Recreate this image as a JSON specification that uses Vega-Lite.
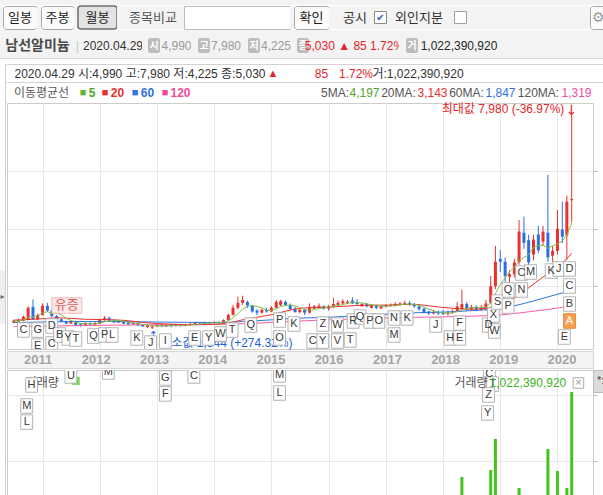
{
  "$schema": "https://vega.github.io/schema/vega-lite/v6.json",
  "background": "#ffffff",
  "padding": 0,
  "spacing": 0,
  "config": {
    "view": {"stroke": null},
    "font": "Liberation Sans, Noto Sans CJK KR",
    "text": {"font": "Liberation Sans, Noto Sans CJK KR", "fontSize": 12, "color": "#333333"},
    "concat": {"spacing": 0}
  },
  "datasets": {
    "px": [
      {"d":"2010-07-01","o":730,"h":830,"l":710,"c":800,"v":40,"m5":772},
      {"d":"2010-08-01","o":780,"h":870,"l":760,"c":830,"v":30,"m5":788},
      {"d":"2010-09-01","o":800,"h":980,"l":780,"c":940,"v":60,"m5":824},
      {"d":"2010-10-01","o":840,"h":1300,"l":820,"c":1250,"v":150,"m5":920},
      {"d":"2010-11-01","o":1280,"h":1540,"l":830,"c":850,"v":170,"m5":934},
      {"d":"2010-12-01","o":850,"h":1050,"l":820,"c":1000,"v":70,"m5":974},
      {"d":"2011-01-01","o":1000,"h":1400,"l":980,"c":1320,"v":160,"m5":1072},
      {"d":"2011-02-01","o":1320,"h":1420,"l":1100,"c":1150,"v":90,"m5":1114},
      {"d":"2011-03-01","o":1150,"h":1200,"l":930,"c":960,"v":60,"m5":1056},
      {"d":"2011-04-01","o":960,"h":1000,"l":820,"c":850,"v":40,"m5":1056},
      {"d":"2011-05-01","o":850,"h":880,"l":740,"c":760,"v":30,"m5":1008},
      {"d":"2011-06-01","o":770,"h":800,"l":680,"c":700,"v":25,"m5":884},
      {"d":"2011-07-01","o":700,"h":820,"l":690,"c":790,"v":35,"m5":812},
      {"d":"2011-08-01","o":780,"h":800,"l":600,"c":640,"v":30,"m5":748},
      {"d":"2011-09-01","o":680,"h":700,"l":590,"c":630,"v":20,"m5":704},
      {"d":"2011-10-01","o":630,"h":750,"l":610,"c":720,"v":25,"m5":696},
      {"d":"2011-11-01","o":720,"h":740,"l":640,"c":670,"v":20,"m5":690},
      {"d":"2011-12-01","o":670,"h":750,"l":650,"c":720,"v":25,"m5":676},
      {"d":"2012-01-01","o":700,"h":870,"l":690,"c":830,"v":60,"m5":714},
      {"d":"2012-02-01","o":820,"h":960,"l":800,"c":900,"v":70,"m5":768},
      {"d":"2012-03-01","o":900,"h":940,"l":780,"c":800,"v":35,"m5":784},
      {"d":"2012-04-01","o":820,"h":850,"l":720,"c":740,"v":25,"m5":798},
      {"d":"2012-05-01","o":740,"h":820,"l":720,"c":790,"v":30,"m5":812},
      {"d":"2012-06-01","o":790,"h":810,"l":680,"c":700,"v":20,"m5":786},
      {"d":"2012-07-01","o":720,"h":760,"l":650,"c":670,"v":15,"m5":740},
      {"d":"2012-08-01","o":670,"h":760,"l":650,"c":720,"v":20,"m5":724},
      {"d":"2012-09-01","o":720,"h":750,"l":620,"c":640,"v":15,"m5":704},
      {"d":"2012-10-01","o":650,"h":680,"l":580,"c":600,"v":15,"m5":666},
      {"d":"2012-11-01","o":580,"h":670,"l":550,"c":640,"v":20,"m5":654},
      {"d":"2012-12-01","o":560,"h":640,"l":510,"c":600,"v":20,"m5":640},
      {"d":"2013-01-01","o":600,"h":690,"l":580,"c":650,"v":25,"m5":626},
      {"d":"2013-02-01","o":660,"h":690,"l":590,"c":600,"v":15,"m5":618},
      {"d":"2013-03-01","o":600,"h":680,"l":580,"c":650,"v":20,"m5":628},
      {"d":"2013-04-01","o":650,"h":670,"l":570,"c":610,"v":15,"m5":622},
      {"d":"2013-05-01","o":610,"h":700,"l":600,"c":660,"v":20,"m5":634},
      {"d":"2013-06-01","o":660,"h":680,"l":590,"c":620,"v":15,"m5":628},
      {"d":"2013-07-01","o":620,"h":700,"l":600,"c":670,"v":20,"m5":642},
      {"d":"2013-08-01","o":660,"h":720,"l":640,"c":690,"v":20,"m5":650},
      {"d":"2013-09-01","o":680,"h":770,"l":660,"c":730,"v":30,"m5":674},
      {"d":"2013-10-01","o":730,"h":760,"l":680,"c":700,"v":20,"m5":682},
      {"d":"2013-11-01","o":700,"h":770,"l":690,"c":740,"v":25,"m5":706},
      {"d":"2013-12-01","o":740,"h":760,"l":690,"c":710,"v":15,"m5":714},
      {"d":"2014-01-01","o":710,"h":780,"l":700,"c":740,"v":20,"m5":724},
      {"d":"2014-02-01","o":740,"h":770,"l":700,"c":720,"v":15,"m5":722},
      {"d":"2014-03-01","o":720,"h":850,"l":710,"c":820,"v":40,"m5":746},
      {"d":"2014-04-01","o":820,"h":1050,"l":800,"c":1000,"v":120,"m5":798},
      {"d":"2014-05-01","o":1000,"h":1350,"l":980,"c":1250,"v":180,"m5":906},
      {"d":"2014-06-01","o":1250,"h":1640,"l":1200,"c":1420,"v":190,"m5":1042},
      {"d":"2014-07-01","o":1420,"h":1670,"l":1350,"c":1520,"v":150,"m5":1202},
      {"d":"2014-08-01","o":1450,"h":1500,"l":1250,"c":1330,"v":80,"m5":1304},
      {"d":"2014-09-01","o":1320,"h":1350,"l":1080,"c":1120,"v":60,"m5":1328},
      {"d":"2014-10-01","o":1150,"h":1200,"l":1000,"c":1080,"v":40,"m5":1294},
      {"d":"2014-11-01","o":1080,"h":1220,"l":1050,"c":1180,"v":45,"m5":1246},
      {"d":"2014-12-01","o":1180,"h":1250,"l":1080,"c":1120,"v":35,"m5":1166},
      {"d":"2015-01-01","o":1120,"h":1300,"l":1100,"c":1250,"v":70,"m5":1150},
      {"d":"2015-02-01","o":1250,"h":1520,"l":1230,"c":1450,"v":120,"m5":1216},
      {"d":"2015-03-01","o":1350,"h":1530,"l":1300,"c":1480,"v":90,"m5":1296},
      {"d":"2015-04-01","o":1450,"h":1500,"l":1300,"c":1350,"v":60,"m5":1330},
      {"d":"2015-05-01","o":1350,"h":1400,"l":1180,"c":1200,"v":40,"m5":1346},
      {"d":"2015-06-01","o":1220,"h":1280,"l":1080,"c":1100,"v":35,"m5":1316},
      {"d":"2015-07-01","o":1100,"h":1220,"l":1050,"c":1180,"v":40,"m5":1262},
      {"d":"2015-08-01","o":1180,"h":1200,"l":1000,"c":1080,"v":35,"m5":1182},
      {"d":"2015-09-01","o":1080,"h":1400,"l":1050,"c":1260,"v":90,"m5":1164},
      {"d":"2015-10-01","o":1220,"h":1350,"l":1200,"c":1300,"v":40,"m5":1184},
      {"d":"2015-11-01","o":1250,"h":1400,"l":1220,"c":1320,"v":45,"m5":1228},
      {"d":"2015-12-01","o":1300,"h":1330,"l":1180,"c":1220,"v":30,"m5":1236},
      {"d":"2016-01-01","o":1220,"h":1350,"l":1150,"c":1300,"v":35,"m5":1280},
      {"d":"2016-02-01","o":1280,"h":1600,"l":1250,"c":1380,"v":100,"m5":1304},
      {"d":"2016-03-01","o":1350,"h":1500,"l":1320,"c":1420,"v":50,"m5":1328},
      {"d":"2016-04-01","o":1400,"h":1550,"l":1380,"c":1480,"v":60,"m5":1360},
      {"d":"2016-05-01","o":1420,"h":1520,"l":1380,"c":1460,"v":40,"m5":1408},
      {"d":"2016-06-01","o":1500,"h":1620,"l":1380,"c":1400,"v":70,"m5":1428},
      {"d":"2016-07-01","o":1450,"h":1550,"l":1350,"c":1380,"v":40,"m5":1428},
      {"d":"2016-08-01","o":1300,"h":1420,"l":1280,"c":1380,"v":35,"m5":1420},
      {"d":"2016-09-01","o":1380,"h":1420,"l":1260,"c":1300,"v":30,"m5":1384},
      {"d":"2016-10-01","o":1250,"h":1380,"l":1220,"c":1320,"v":30,"m5":1356},
      {"d":"2016-11-01","o":1320,"h":1360,"l":1200,"c":1250,"v":35,"m5":1326},
      {"d":"2016-12-01","o":1230,"h":1330,"l":1200,"c":1300,"v":30,"m5":1310},
      {"d":"2017-01-01","o":1300,"h":1380,"l":1260,"c":1330,"v":30,"m5":1300},
      {"d":"2017-02-01","o":1320,"h":1400,"l":1300,"c":1350,"v":35,"m5":1310},
      {"d":"2017-03-01","o":1330,"h":1450,"l":1300,"c":1380,"v":40,"m5":1322},
      {"d":"2017-04-01","o":1350,"h":1450,"l":1320,"c":1400,"v":35,"m5":1352},
      {"d":"2017-05-01","o":1380,"h":1500,"l":1350,"c":1420,"v":45,"m5":1376},
      {"d":"2017-06-01","o":1420,"h":1480,"l":1320,"c":1350,"v":30,"m5":1380},
      {"d":"2017-07-01","o":1380,"h":1420,"l":1250,"c":1300,"v":25,"m5":1370},
      {"d":"2017-08-01","o":1300,"h":1330,"l":1150,"c":1200,"v":30,"m5":1334},
      {"d":"2017-09-01","o":1220,"h":1250,"l":1050,"c":1100,"v":35,"m5":1274},
      {"d":"2017-10-01","o":1120,"h":1150,"l":1000,"c":1050,"v":25,"m5":1200},
      {"d":"2017-11-01","o":1050,"h":1180,"l":1020,"c":1100,"v":30,"m5":1150},
      {"d":"2017-12-01","o":1100,"h":1150,"l":1000,"c":1050,"v":20,"m5":1100},
      {"d":"2018-01-01","o":1080,"h":1180,"l":1000,"c":1030,"v":30,"m5":1066},
      {"d":"2018-02-01","o":1030,"h":1150,"l":980,"c":1080,"v":25,"m5":1062},
      {"d":"2018-03-01","o":1070,"h":1200,"l":1040,"c":1120,"v":40,"m5":1076},
      {"d":"2018-04-01","o":1120,"h":1450,"l":1100,"c":1300,"v":150,"m5":1116},
      {"d":"2018-05-01","o":1200,"h":1880,"l":1180,"c":1380,"v":379,"m5":1182},
      {"d":"2018-06-01","o":1380,"h":1450,"l":1150,"c":1200,"v":110,"m5":1216},
      {"d":"2018-07-01","o":1200,"h":1350,"l":1150,"c":1280,"v":60,"m5":1256},
      {"d":"2018-08-01","o":1280,"h":1330,"l":1130,"c":1180,"v":50,"m5":1268},
      {"d":"2018-09-01","o":1180,"h":1350,"l":1150,"c":1250,"v":60,"m5":1258},
      {"d":"2018-10-01","o":1250,"h":1520,"l":1150,"c":1400,"v":150,"m5":1262},
      {"d":"2018-11-01","o":1420,"h":2350,"l":1380,"c":2000,"v":432,"m5":1422},
      {"d":"2018-12-01","o":2000,"h":3400,"l":1900,"c":2850,"v":667,"m5":1736},
      {"d":"2019-01-01","o":2950,"h":3250,"l":2500,"c":2850,"v":235,"m5":2070},
      {"d":"2019-02-01","o":2850,"h":3000,"l":2150,"c":2350,"v":130,"m5":2290},
      {"d":"2019-03-01","o":2330,"h":2550,"l":2100,"c":2420,"v":90,"m5":2494},
      {"d":"2019-04-01","o":2420,"h":2950,"l":2300,"c":2830,"v":160,"m5":2660},
      {"d":"2019-05-01","o":2830,"h":4300,"l":2750,"c":3900,"v":295,"m5":2870},
      {"d":"2019-06-01","o":3860,"h":4420,"l":3300,"c":3510,"v":180,"m5":3002},
      {"d":"2019-07-01","o":3600,"h":3790,"l":2650,"c":2830,"v":110,"m5":3098},
      {"d":"2019-08-01","o":3100,"h":3790,"l":2900,"c":3620,"v":150,"m5":3338},
      {"d":"2019-09-01","o":3800,"h":4100,"l":3150,"c":3250,"v":130,"m5":3422},
      {"d":"2019-10-01","o":3550,"h":4100,"l":3400,"c":3900,"v":160,"m5":3422},
      {"d":"2019-11-01","o":3860,"h":5870,"l":2850,"c":3000,"v":591,"m5":3320},
      {"d":"2019-12-01","o":3060,"h":3400,"l":2850,"c":3230,"v":100,"m5":3400},
      {"d":"2020-01-01","o":3230,"h":4650,"l":3100,"c":4000,"v":424,"m5":3476},
      {"d":"2020-02-01","o":3970,"h":4940,"l":3500,"c":3720,"v":242,"m5":3570},
      {"d":"2020-03-01","o":3760,"h":5150,"l":2920,"c":4940,"v":295,"m5":3778},
      {"d":"2020-04-01","o":4990,"h":7980,"l":4225,"c":5030,"v":1022.39092,"m5":4197}
    ],
    "ma": [
      {"d":"2010-07-01","m20":820,"m60":740,"m120":600},
      {"d":"2010-10-01","m20":840,"m60":745,"m120":605},
      {"d":"2011-01-01","m20":870,"m60":755,"m120":612},
      {"d":"2011-04-01","m20":900,"m60":765,"m120":620},
      {"d":"2011-07-01","m20":880,"m60":770,"m120":627},
      {"d":"2011-10-01","m20":850,"m60":770,"m120":633},
      {"d":"2012-01-01","m20":840,"m60":770,"m120":640},
      {"d":"2012-04-01","m20":830,"m60":770,"m120":645},
      {"d":"2012-07-01","m20":800,"m60":765,"m120":650},
      {"d":"2012-10-01","m20":740,"m60":760,"m120":655},
      {"d":"2013-01-01","m20":700,"m60":755,"m120":658},
      {"d":"2013-04-01","m20":680,"m60":750,"m120":662},
      {"d":"2013-07-01","m20":650,"m60":745,"m120":665},
      {"d":"2013-10-01","m20":660,"m60":740,"m120":668},
      {"d":"2014-01-01","m20":680,"m60":740,"m120":672},
      {"d":"2014-04-01","m20":720,"m60":745,"m120":680},
      {"d":"2014-07-01","m20":830,"m60":770,"m120":695},
      {"d":"2014-10-01","m20":920,"m60":800,"m120":715},
      {"d":"2015-01-01","m20":1010,"m60":830,"m120":740},
      {"d":"2015-04-01","m20":1130,"m60":860,"m120":765},
      {"d":"2015-07-01","m20":1230,"m60":890,"m120":790},
      {"d":"2015-10-01","m20":1260,"m60":905,"m120":810},
      {"d":"2016-01-01","m20":1270,"m60":918,"m120":830},
      {"d":"2016-04-01","m20":1300,"m60":945,"m120":850},
      {"d":"2016-07-01","m20":1330,"m60":970,"m120":865},
      {"d":"2016-10-01","m20":1340,"m60":1000,"m120":880},
      {"d":"2017-01-01","m20":1340,"m60":1025,"m120":895},
      {"d":"2017-04-01","m20":1360,"m60":1050,"m120":905},
      {"d":"2017-07-01","m20":1370,"m60":1075,"m120":915},
      {"d":"2017-10-01","m20":1320,"m60":1090,"m120":925},
      {"d":"2018-01-01","m20":1260,"m60":1100,"m120":935},
      {"d":"2018-04-01","m20":1220,"m60":1120,"m120":945},
      {"d":"2018-07-01","m20":1200,"m60":1150,"m120":955},
      {"d":"2018-10-01","m20":1228,"m60":1180,"m120":975},
      {"d":"2019-01-01","m20":1404,"m60":1230,"m120":1000},
      {"d":"2019-04-01","m20":1591,"m60":1320,"m120":1050},
      {"d":"2019-07-01","m20":1940,"m60":1440,"m120":1110},
      {"d":"2019-10-01","m20":2321,"m60":1580,"m120":1170},
      {"d":"2020-01-01","m20":2642,"m60":1720,"m120":1240},
      {"d":"2020-04-01","m20":3143,"m60":1847,"m120":1319}
    ],
    "ev": [
      {"d":"2010-09-01","k":"C","p":476},
      {"d":"2010-12-01","k":"G","p":476},
      {"d":"2011-03-01","k":"D","p":616},
      {"d":"2010-12-01","k":"E","p":-80},
      {"d":"2011-03-01","k":"C","p":-10},
      {"d":"2011-04-20","k":"B","p":303},
      {"d":"2011-06-12","k":"Y","p":198},
      {"d":"2011-08-01","k":"T","p":163},
      {"d":"2011-11-22","k":"Q","p":268},
      {"d":"2012-02-01","k":"P","p":303},
      {"d":"2012-03-20","k":"L","p":303},
      {"d":"2012-08-25","k":"K","p":198},
      {"d":"2012-11-21","k":"J","p":24},
      {"d":"2013-02-23","k":"I","p":94},
      {"d":"2013-08-29","k":"E","p":198},
      {"d":"2013-11-26","k":"Y","p":198},
      {"d":"2014-02-10","k":"W","p":337},
      {"d":"2014-04-25","k":"T","p":476},
      {"d":"2014-08-22","k":"Q","p":650},
      {"d":"2015-02-22","k":"P","p":824},
      {"d":"2015-02-22","k":"O","p":198},
      {"d":"2015-05-25","k":"K","p":685},
      {"d":"2015-09-22","k":"C","p":94},
      {"d":"2015-11-25","k":"Y","p":94},
      {"d":"2016-02-27","k":"V","p":94},
      {"d":"2016-05-18","k":"T","p":129},
      {"d":"2015-11-25","k":"Z","p":685},
      {"d":"2016-02-27","k":"W","p":650},
      {"d":"2016-06-06","k":"R","p":790},
      {"d":"2016-07-20","k":"Q","p":929},
      {"d":"2016-09-21","k":"P","p":790},
      {"d":"2016-11-17","k":"O","p":790},
      {"d":"2017-02-22","k":"N","p":894},
      {"d":"2017-05-16","k":"K","p":894},
      {"d":"2017-02-22","k":"M","p":303},
      {"d":"2017-11-15","k":"J","p":650},
      {"d":"2018-02-15","k":"H","p":200},
      {"d":"2018-04-17","k":"F","p":720},
      {"d":"2018-04-17","k":"E","p":200},
      {"d":"2018-10-17","k":"D","p":650},
      {"d":"2018-11-24","k":"W","p":442},
      {"d":"2018-11-18","k":"X","p":998},
      {"d":"2018-12-15","k":"S","p":1450},
      {"d":"2019-02-20","k":"P","p":1311},
      {"d":"2019-02-20","k":"Q","p":1868},
      {"d":"2019-05-17","k":"N","p":1868},
      {"d":"2019-05-17","k":"C","p":2459},
      {"d":"2019-07-13","k":"M","p":2494},
      {"d":"2019-11-22","k":"K","p":2528},
      {"d":"2020-01-10","k":"J","p":2598},
      {"d":"2020-03-18","k":"D","p":2598},
      {"d":"2020-03-18","k":"C","p":2007},
      {"d":"2020-03-18","k":"B","p":1381},
      {"d":"2020-03-18","k":"A","p":790},
      {"d":"2020-02-14","k":"E","p":233}
    ],
    "ev2": [
      {"d":"2010-10-23","k":"H","v":1076},
      {"d":"2011-07-01","k":"U","v":1144},
      {"d":"2012-02-25","k":"M","v":1174},
      {"d":"2013-02-23","k":"G","v":1129},
      {"d":"2013-02-23","k":"F","v":1008},
      {"d":"2013-08-24","k":"C","v":1144},
      {"d":"2015-02-22","k":"M","v":1152},
      {"d":"2015-02-22","k":"L","v":1015},
      {"d":"2010-09-22","k":"M","v":917},
      {"d":"2010-09-22","k":"L","v":795},
      {"d":"2018-10-23","k":"C","v":1159},
      {"d":"2018-11-13","k":"T","v":1083},
      {"d":"2018-10-18","k":"Z","v":1000},
      {"d":"2018-10-12","k":"Y","v":864}
    ],
    "yr": [
      {"d":"2011-01-01","y":"2011"},{"d":"2012-01-01","y":"2012"},{"d":"2013-01-01","y":"2013"},
      {"d":"2014-01-01","y":"2014"},{"d":"2015-01-01","y":"2015"},{"d":"2016-01-01","y":"2016"},
      {"d":"2017-01-01","y":"2017"},{"d":"2018-01-01","y":"2018"},{"d":"2019-01-01","y":"2019"},
      {"d":"2020-01-01","y":"2020"}
    ]
  },
  "vconcat": [
    {"width":603,"height":5,"view":{"fill":"#f3f3f3"},"data":{"values":[]},"mark":{"type":"text"}},
    {"hconcat": [
      {"width":3,"height":23,"view":{"fill":"#f3f3f3"},"data":{"values":[]},"mark":{"type":"text"}},
      {"width":34,"height":23,"view":{"fill":"#fbfbfb","stroke":"#a7a7a7","cornerRadius":3},"data":{"values":[{"t":"일봉"}]},"mark":{"type":"text","font":"Noto Sans CJK KR","fontSize":13,"color":"#222222"},"encoding":{"text":{"field":"t"}}},
      {"width":4,"height":23,"view":{"fill":"#f3f3f3"},"data":{"values":[]},"mark":{"type":"text"}},
      {"width":33,"height":23,"view":{"fill":"#fbfbfb","stroke":"#a7a7a7","cornerRadius":3},"data":{"values":[{"t":"주봉"}]},"mark":{"type":"text","font":"Noto Sans CJK KR","fontSize":13,"color":"#222222"},"encoding":{"text":{"field":"t"}}},
      {"width":4,"height":23,"view":{"fill":"#f3f3f3"},"data":{"values":[]},"mark":{"type":"text"}},
      {"width":39,"height":23,"view":{"fill":"#e3e3e3","stroke":"#6e6e6e","strokeWidth":1.5,"cornerRadius":3},"data":{"values":[{"t":"월봉"}]},"mark":{"type":"text","font":"Noto Sans CJK KR","fontSize":13,"color":"#222222"},"encoding":{"text":{"field":"t"}}},
      {"width":8,"height":23,"view":{"fill":"#f3f3f3"},"data":{"values":[]},"mark":{"type":"text"}},
      {"width":56,"height":23,"view":{"fill":"#f3f3f3"},"data":{"values":[{"t":"종목비교"}]},"mark":{"type":"text","font":"Noto Sans CJK KR","fontSize":13,"color":"#555555"},"encoding":{"text":{"field":"t"}}},
      {"width":3,"height":23,"view":{"fill":"#f3f3f3"},"data":{"values":[]},"mark":{"type":"text"}},
      {"width":106,"height":23,"view":{"fill":"#ffffff","stroke":"#bdbdbd"},"data":{"values":[]},"mark":{"type":"text"}},
      {"width":4,"height":23,"view":{"fill":"#f3f3f3"},"data":{"values":[]},"mark":{"type":"text"}},
      {"width":35,"height":23,"view":{"fill":"#fbfbfb","stroke":"#a7a7a7","cornerRadius":3},"data":{"values":[{"t":"확인"}]},"mark":{"type":"text","font":"Noto Sans CJK KR","fontSize":13,"color":"#222222"},"encoding":{"text":{"field":"t"}}},
      {"width":10,"height":23,"view":{"fill":"#f3f3f3"},"data":{"values":[]},"mark":{"type":"text"}},
      {"width":32,"height":23,"view":{"fill":"#f3f3f3"},"data":{"values":[{"t":"공시"}]},"mark":{"type":"text","font":"Noto Sans CJK KR","fontSize":13,"color":"#333333"},"encoding":{"text":{"field":"t"}}},
      {"width":3,"height":23,"view":{"fill":"#f3f3f3"},"data":{"values":[]},"mark":{"type":"text"}},
      {"width":13,"height":23,"view":{"fill":"#f3f3f3"},"data":{"values":[{"t":"✔"}]},
       "layer":[
         {"mark":{"type":"point","shape":"square","size":144,"filled":true,"fill":"#ffffff","stroke":"#8a8a8a","strokeWidth":1,"opacity":1}},
         {"mark":{"type":"text","font":"DejaVu Sans","fontSize":10,"color":"#2a62c9"},"encoding":{"text":{"field":"t"}}}
       ]},
      {"width":6,"height":23,"view":{"fill":"#f3f3f3"},"data":{"values":[]},"mark":{"type":"text"}},
      {"width":52,"height":23,"view":{"fill":"#f3f3f3"},"data":{"values":[{"t":"외인지분"}]},"mark":{"type":"text","font":"Noto Sans CJK KR","fontSize":13,"color":"#333333"},"encoding":{"text":{"field":"t"}}},
      {"width":9,"height":23,"view":{"fill":"#f3f3f3"},"data":{"values":[]},"mark":{"type":"text"}},
      {"width":13,"height":23,"view":{"fill":"#f3f3f3"},"data":{"values":[{"t":""}]},
       "mark":{"type":"point","shape":"square","size":144,"filled":true,"fill":"#ffffff","stroke":"#a0a0a0","strokeWidth":1,"opacity":1}},
      {"width":123,"height":23,"view":{"fill":"#f3f3f3"},"data":{"values":[]},"mark":{"type":"text"}},
      {"width":20,"height":23,"view":{"fill":"#fbfbfb","stroke":"#a7a7a7","cornerRadius":3},"data":{"values":[{"t":"⚙"}]},"mark":{"type":"text","font":"DejaVu Sans","fontSize":14,"color":"#9a9a9a","align":"left","dx":-8},"encoding":{"text":{"field":"t"}}}
    ], "spacing":0, "bounds":"flush"},
    {"width":603,"height":8,"view":{"fill":"#f3f3f3"},"data":{"values":[]},"mark":{"type":"text"}},
    {"hconcat": [
      {"width":4,"height":15,"view":{"fill":"#f3f3f3"},"data":{"values":[]},"mark":{"type":"text"}},
      {"width":67,"height":15,"view":{"fill":"#f3f3f3"},"data":{"values":[{"t":"남선알미늄"}]},"mark":{"type":"text","font":"Noto Sans CJK KR","fontSize":14,"fontWeight":"bold","color":"#4a4a4a"},"encoding":{"text":{"field":"t"}}},
      {"width":13,"height":15,"view":{"fill":"#f3f3f3"},"data":{"values":[{"t":"|"}]},"mark":{"type":"text","fontSize":13,"color":"#c6c6c6"},"encoding":{"text":{"field":"t"}}},
      {"width":58,"height":15,"view":{"fill":"#f3f3f3"},"data":{"values":[{"t":"2020.04.29"}]},"mark":{"type":"text","fontSize":12,"color":"#333333"},"encoding":{"text":{"field":"t"}}},
      {"width":6,"height":15,"view":{"fill":"#f3f3f3"},"data":{"values":[]},"mark":{"type":"text"}},
      {"width":12,"height":15,"view":{"fill":"#bdbdbd","cornerRadius":2},"data":{"values":[{"t":"시"}]},"mark":{"type":"text","font":"Noto Sans CJK KR","fontSize":10,"fontWeight":"bold","color":"#ffffff"},"encoding":{"text":{"field":"t"}}},
      {"width":2,"height":15,"view":{"fill":"#f3f3f3"},"data":{"values":[]},"mark":{"type":"text"}},
      {"width":29,"height":15,"view":{"fill":"#f3f3f3"},"data":{"values":[{"t":"4,990"}]},"mark":{"type":"text","color":"#9c9c9c"},"encoding":{"text":{"field":"t"}}},
      {"width":7,"height":15,"view":{"fill":"#f3f3f3"},"data":{"values":[]},"mark":{"type":"text"}},
      {"width":12,"height":15,"view":{"fill":"#bdbdbd","cornerRadius":2},"data":{"values":[{"t":"고"}]},"mark":{"type":"text","font":"Noto Sans CJK KR","fontSize":10,"fontWeight":"bold","color":"#ffffff"},"encoding":{"text":{"field":"t"}}},
      {"width":1,"height":15,"view":{"fill":"#f3f3f3"},"data":{"values":[]},"mark":{"type":"text"}},
      {"width":30,"height":15,"view":{"fill":"#f3f3f3"},"data":{"values":[{"t":"7,980"}]},"mark":{"type":"text","color":"#9c9c9c"},"encoding":{"text":{"field":"t"}}},
      {"width":7,"height":15,"view":{"fill":"#f3f3f3"},"data":{"values":[]},"mark":{"type":"text"}},
      {"width":12,"height":15,"view":{"fill":"#bdbdbd","cornerRadius":2},"data":{"values":[{"t":"저"}]},"mark":{"type":"text","font":"Noto Sans CJK KR","fontSize":10,"fontWeight":"bold","color":"#ffffff"},"encoding":{"text":{"field":"t"}}},
      {"width":1,"height":15,"view":{"fill":"#f3f3f3"},"data":{"values":[]},"mark":{"type":"text"}},
      {"width":30,"height":15,"view":{"fill":"#f3f3f3"},"data":{"values":[{"t":"4,225"}]},"mark":{"type":"text","color":"#9c9c9c"},"encoding":{"text":{"field":"t"}}},
      {"width":6,"height":15,"view":{"fill":"#f3f3f3"},"data":{"values":[]},"mark":{"type":"text"}},
      {"width":12,"height":15,"view":{"fill":"#bdbdbd","cornerRadius":2},"data":{"values":[{"t":"종"}]},"mark":{"type":"text","font":"Noto Sans CJK KR","fontSize":10,"fontWeight":"bold","color":"#ffffff"},"encoding":{"text":{"field":"t"}}},
      {"width":1,"height":15,"view":{"fill":"#f3f3f3"},"data":{"values":[]},"mark":{"type":"text"}},
      {"width":89,"height":15,"view":{"fill":"#f3f3f3"},"data":{"values":[{"t":"5,030 ▲ 85 1.72%"}]},"mark":{"type":"text","color":"#e3262b"},"encoding":{"text":{"field":"t"}}},
      {"width":7,"height":15,"view":{"fill":"#f3f3f3"},"data":{"values":[]},"mark":{"type":"text"}},
      {"width":12,"height":15,"view":{"fill":"#bdbdbd","cornerRadius":2},"data":{"values":[{"t":"거"}]},"mark":{"type":"text","font":"Noto Sans CJK KR","fontSize":10,"fontWeight":"bold","color":"#ffffff"},"encoding":{"text":{"field":"t"}}},
      {"width":1,"height":15,"view":{"fill":"#f3f3f3"},"data":{"values":[]},"mark":{"type":"text"}},
      {"width":80,"height":15,"view":{"fill":"#f3f3f3"},"data":{"values":[{"t":"1,022,390,920"}]},"mark":{"type":"text","color":"#262626"},"encoding":{"text":{"field":"t"}}},
      {"width":104,"height":15,"view":{"fill":"#f3f3f3"},"data":{"values":[]},"mark":{"type":"text"}}
    ], "spacing":0, "bounds":"flush"},
    {"width":603,"height":5,"view":{"fill":"#f3f3f3"},"data":{"values":[]},"mark":{"type":"text"}},
    {"width":603,"height":1,"view":{"fill":"#d4d4d4"},"data":{"values":[]},"mark":{"type":"text"}},
    {"width":603,"height":5,"data":{"values":[]},"mark":{"type":"text"}},
    {"hconcat": [
      {"vconcat": [
        {"width":5,"height":206,"data":{"values":[]},"mark":{"type":"text"}},
        {"width":5,"height":54,"view":{"fill":"#efefef","cornerRadius":2},"data":{"values":[{"t":"▸"}]},"mark":{"type":"text","font":"DejaVu Sans","fontSize":8,"color":"#707070"},"encoding":{"text":{"field":"t"}}}
      ], "spacing":0, "bounds":"flush"},
      {"width":1,"height":458,"view":{"fill":"#cfcfcf"},"data":{"values":[]},"mark":{"type":"text"}},
      {"vconcat": [
        {"width":597,"height":1,"view":{"fill":"#d2d2d2"},"data":{"values":[]},"mark":{"type":"text"}},
        {"hconcat": [
          {"width":6,"height":17,"data":{"values":[]},"mark":{"type":"text"}},
          {"width":254,"height":17,"data":{"values":[{"t":"2020.04.29 시:4,990 고:7,980 저:4,225 종:5,030"}]},"mark":{"type":"text","color":"#333333"},"encoding":{"text":{"field":"t"}}},
          {"width":12,"height":17,"data":{"values":[{"t":"▲"}]},"mark":{"type":"text","color":"#e3262b","fontSize":11},"encoding":{"text":{"field":"t"}}},
          {"width":36,"height":17,"data":{"values":[]},"mark":{"type":"text"}},
          {"width":13,"height":17,"data":{"values":[{"t":"85"}]},"mark":{"type":"text","color":"#e3262b"},"encoding":{"text":{"field":"t"}}},
          {"width":13,"height":17,"data":{"values":[]},"mark":{"type":"text"}},
          {"width":30,"height":17,"data":{"values":[{"t":"1.72%"}]},"mark":{"type":"text","color":"#e3262b"},"encoding":{"text":{"field":"t"}}},
          {"width":2,"height":17,"data":{"values":[]},"mark":{"type":"text"}},
          {"width":90,"height":17,"data":{"values":[{"t":"거:1,022,390,920"}]},"mark":{"type":"text","color":"#333333"},"encoding":{"text":{"field":"t"}}},
          {"width":141,"height":17,"data":{"values":[]},"mark":{"type":"text"}}
        ], "spacing":0, "bounds":"flush"},
        {"width":597,"height":1,"view":{"fill":"#d2d2d2"},"data":{"values":[]},"mark":{"type":"text"}},
        {"hconcat": [
          {"width":6,"height":19,"data":{"values":[]},"mark":{"type":"text"}},
          {"width":57,"height":19,"data":{"values":[{"t":"이동평균선"}]},"mark":{"type":"text","color":"#5a5a5a"},"encoding":{"text":{"field":"t"}}},
          {"width":8,"height":19,"data":{"values":[]},"mark":{"type":"text"}},
          {"width":10,"height":19,"data":{"values":[{"t":"■"}]},"mark":{"type":"text","color":"#64b43a","fontSize":11},"encoding":{"text":{"field":"t"}}},
          {"width":8,"height":19,"data":{"values":[{"t":"5"}]},"mark":{"type":"text","color":"#4fa52a","fontWeight":"bold"},"encoding":{"text":{"field":"t"}}},
          {"width":4,"height":19,"data":{"values":[]},"mark":{"type":"text"}},
          {"width":10,"height":19,"data":{"values":[{"t":"■"}]},"mark":{"type":"text","color":"#e8302d","fontSize":11},"encoding":{"text":{"field":"t"}}},
          {"width":15,"height":19,"data":{"values":[{"t":"20"}]},"mark":{"type":"text","color":"#e8302d","fontWeight":"bold"},"encoding":{"text":{"field":"t"}}},
          {"width":5,"height":19,"data":{"values":[]},"mark":{"type":"text"}},
          {"width":10,"height":19,"data":{"values":[{"t":"■"}]},"mark":{"type":"text","color":"#2f74e0","fontSize":11},"encoding":{"text":{"field":"t"}}},
          {"width":15,"height":19,"data":{"values":[{"t":"60"}]},"mark":{"type":"text","color":"#2f6fdc","fontWeight":"bold"},"encoding":{"text":{"field":"t"}}},
          {"width":5,"height":19,"data":{"values":[]},"mark":{"type":"text"}},
          {"width":10,"height":19,"data":{"values":[{"t":"■"}]},"mark":{"type":"text","color":"#f24c9c","fontSize":11},"encoding":{"text":{"field":"t"}}},
          {"width":21,"height":19,"data":{"values":[{"t":"120"}]},"mark":{"type":"text","color":"#f24c9c","fontWeight":"bold"},"encoding":{"text":{"field":"t"}}},
          {"width":130,"height":19,"data":{"values":[]},"mark":{"type":"text"}},
          {"width":28,"height":19,"data":{"values":[{"t":"5MA:"}]},"mark":{"type":"text","color":"#555555"},"encoding":{"text":{"field":"t"}}},
          {"width":31,"height":19,"data":{"values":[{"t":"4,197"}]},"mark":{"type":"text","color":"#4fa52a"},"encoding":{"text":{"field":"t"}}},
          {"width":37,"height":19,"data":{"values":[{"t":"20MA:"}]},"mark":{"type":"text","color":"#555555"},"encoding":{"text":{"field":"t"}}},
          {"width":31,"height":19,"data":{"values":[{"t":"3,143"}]},"mark":{"type":"text","color":"#e8302d"},"encoding":{"text":{"field":"t"}}},
          {"width":37,"height":19,"data":{"values":[{"t":"60MA:"}]},"mark":{"type":"text","color":"#555555"},"encoding":{"text":{"field":"t"}}},
          {"width":31,"height":19,"data":{"values":[{"t":"1,847"}]},"mark":{"type":"text","color":"#2f6fdc"},"encoding":{"text":{"field":"t"}}},
          {"width":45,"height":19,"data":{"values":[{"t":"120MA:"}]},"mark":{"type":"text","color":"#555555"},"encoding":{"text":{"field":"t"}}},
          {"width":31,"height":19,"data":{"values":[{"t":"1,319"}]},"mark":{"type":"text","color":"#f24c9c"},"encoding":{"text":{"field":"t"}}},
          {"width":12,"height":19,"data":{"values":[]},"mark":{"type":"text"}}
        ], "spacing":0, "bounds":"flush"},
        {
          "width": 586,
          "height": 246,
          "view": {"stroke": "#cccccc"},
          "layer": [
            {
              "data": {"name": "px"},
              "mark": {"type": "rule", "strokeWidth": 1},
              "encoding": {
                "x": {"field": "d", "type": "temporal", "title": null,
                      "scale": {"domain": [{"year": 2010, "month": 6, "date": 20}, {"year": 2020, "month": 7, "date": 14}], "nice": false},
                      "axis": {"grid": true, "gridColor": "#e8e8e8", "labels": false, "ticks": false, "domain": false, "minExtent": 0, "tickCount": {"interval": "year", "step": 1}}},
                "y": {"field": "l", "type": "quantitative", "title": null,
                      "scale": {"domain": [-184, 8372], "nice": false, "zero": false},
                      "axis": {"orient": "right", "values": [2000, 4000, 6000], "grid": true, "gridColor": "#e8e8e8", "labels": false, "ticks": true, "tickSize": 4, "tickColor": "#bbbbbb", "domain": false, "minExtent": 0}},
                "y2": {"field": "h"},
                "color": {"condition": {"test": "datum.c >= datum.o", "value": "#e8322d"}, "value": "#2c6fe2"}
              }
            },
            {
              "data": {"name": "px"},
              "mark": {"type": "bar", "size": 3},
              "encoding": {
                "x": {"field": "d", "type": "temporal", "title": null},
                "y": {"field": "o", "type": "quantitative", "title": null},
                "y2": {"field": "c"},
                "color": {"condition": {"test": "datum.c >= datum.o", "value": "#e8322d"}, "value": "#2c6fe2"}
              }
            },
            {
              "data": {"name": "ma"},
              "mark": {"type": "line", "color": "#ff5aa8", "strokeWidth": 1, "interpolate": "monotone"},
              "encoding": {"x": {"field": "d", "type": "temporal", "title": null}, "y": {"field": "m120", "type": "quantitative", "title": null}}
            },
            {
              "data": {"name": "ma"},
              "mark": {"type": "line", "color": "#2f74e0", "strokeWidth": 1, "interpolate": "monotone"},
              "encoding": {"x": {"field": "d", "type": "temporal", "title": null}, "y": {"field": "m60", "type": "quantitative", "title": null}}
            },
            {
              "data": {"name": "ma"},
              "mark": {"type": "line", "color": "#e8302d", "strokeWidth": 1, "interpolate": "monotone"},
              "encoding": {"x": {"field": "d", "type": "temporal", "title": null}, "y": {"field": "m20", "type": "quantitative", "title": null}}
            },
            {
              "data": {"name": "px"},
              "mark": {"type": "line", "color": "#7cc24a", "strokeWidth": 1},
              "encoding": {"x": {"field": "d", "type": "temporal", "title": null}, "y": {"field": "m5", "type": "quantitative", "title": null}}
            },
            {
              "data": {"values": [{"t": "최소값 1,344 (+274.32%)"}]},
              "mark": {"type": "text", "align": "left", "color": "#1f63d8", "fontSize": 12},
              "encoding": {"x": {"datum": {"year": 2013, "month": 1, "date": 22}, "type": "temporal"}, "y": {"datum": 40, "type": "quantitative"}, "text": {"field": "t"}}
            },
            {
              "data": {"values": [{"t": "↑"}]},
              "mark": {"type": "text", "color": "#1f63d8", "fontSize": 11, "font": "DejaVu Sans"},
              "encoding": {"x": {"datum": {"year": 2012, "month": 12, "date": 9}, "type": "temporal"}, "y": {"datum": 268, "type": "quantitative"}, "text": {"field": "t"}}
            },
            {
              "data": {"values": [{"t": "유증"}]},
              "encoding": {"x": {"datum": {"year": 2011, "month": 6, "date": 5}, "type": "temporal"}, "y": {"datum": 1329, "type": "quantitative"}},
              "layer": [
                {"mark": {"type": "point", "shape": "M-1,-0.52H1V0.52H-1Z", "size": 900, "filled": true, "fill": "#fde6e6", "stroke": "#f2b5b5", "strokeWidth": 1, "opacity": 0.9}},
                {"mark": {"type": "text", "font": "Noto Sans CJK KR", "fontSize": 13, "color": "#e06060"}, "encoding": {"text": {"field": "t"}}}
              ]
            },
            {
              "data": {"name": "ev"},
              "encoding": {"x": {"field": "d", "type": "temporal", "title": null}, "y": {"field": "p", "type": "quantitative", "title": null}},
              "layer": [
                {"mark": {"type": "point", "shape": "M-0.82,-1H0.82V1H-0.82Z", "size": 210, "filled": true, "strokeWidth": 1, "opacity": 0.95, "clip": true},
                 "encoding": {
                   "fill": {"condition": {"test": "datum.k === 'A'", "value": "#f69a46"}, "value": "#ffffff"},
                   "stroke": {"condition": {"test": "datum.k === 'A'", "value": "#e8872f"}, "value": "#b0b0b0"}
                 }},
                {"mark": {"type": "text", "font": "Liberation Sans", "fontSize": 11, "clip": true},
                 "encoding": {
                   "text": {"field": "k"},
                   "color": {"condition": {"test": "datum.k === 'A'", "value": "#ffffff"}, "value": "#3a3a3a"}
                 }}
              ]
            },
            {
              "data": {"values": [{"t": "최대값 7,980 (-36.97%)"}]},
              "mark": {"type": "text", "align": "right", "color": "#e8262a", "fontSize": 12},
              "encoding": {"x": {"datum": {"year": 2020, "month": 2, "date": 14}, "type": "temporal"}, "y": {"datum": 8150, "type": "quantitative"}, "text": {"field": "t"}}
            },
            {
              "data": {"values": [{"t": "↓"}]},
              "mark": {"type": "text", "color": "#e8262a", "fontSize": 14, "font": "DejaVu Sans"},
              "encoding": {"x": {"datum": {"year": 2020, "month": 4, "date": 1}, "type": "temporal"}, "y": {"datum": 8110, "type": "quantitative"}, "text": {"field": "t"}}
            }
          ]
        },
        {
          "width": 586,
          "height": 17,
          "view": {"fill": "#f4f4f4", "stroke": "#d6d6d6"},
          "data": {"name": "yr"},
          "mark": {"type": "text", "font": "Liberation Sans", "fontSize": 13, "fontWeight": "bold", "color": "#a5a5a5"},
          "encoding": {
            "x": {"field": "d", "type": "temporal", "title": null, "axis": null,
                  "scale": {"domain": [{"year": 2010, "month": 6, "date": 20}, {"year": 2020, "month": 7, "date": 14}], "nice": false}},
            "text": {"field": "y"}
          }
        },
        {"hconcat": [
          {
            "width": 586,
            "height": 157,
            "view": {"stroke": "#cccccc"},
            "layer": [
              {
                "data": {"name": "px"},
                "mark": {"type": "bar", "size": 3, "color": "#44c41e"},
                "encoding": {
                  "x": {"field": "d", "type": "temporal", "title": null,
                        "scale": {"domain": [{"year": 2010, "month": 6, "date": 20}, {"year": 2020, "month": 7, "date": 14}], "nice": false},
                        "axis": {"grid": true, "gridColor": "#e8e8e8", "labels": false, "ticks": false, "domain": false, "minExtent": 0, "tickCount": {"interval": "year", "step": 1}}},
                  "y": {"field": "v", "type": "quantitative", "title": null,
                        "scale": {"domain": [0, 1189.4], "nice": false},
                        "axis": {"orient": "right", "values": [500, 1000], "grid": true, "gridColor": "#e8e8e8", "labels": false, "ticks": true, "tickSize": 4, "tickColor": "#bbbbbb", "domain": false, "minExtent": 0}}
                }
              },
              {
                "data": {"values": [{"t": "거래량"}]},
                "mark": {"type": "text", "align": "left", "color": "#555555", "fontSize": 12, "font": "Noto Sans CJK KR"},
                "encoding": {"x": {"datum": {"year": 2010, "month": 9, "date": 16}, "type": "temporal"}, "y": {"datum": 1091, "type": "quantitative"}, "text": {"field": "t"}}
              },
              {
                "data": {"values": [{"t": "거래량"}]},
                "mark": {"type": "point", "shape": "square", "size": 64, "filled": true, "color": "#7bd65a", "opacity": 1},
                "encoding": {"x": {"datum": {"year": 2011, "month": 8, "date": 1}, "type": "temporal"}, "y": {"datum": 1107, "type": "quantitative"}}
              },
              {
                "data": {"name": "ev2"},
                "encoding": {"x": {"field": "d", "type": "temporal", "title": null}, "y": {"field": "v", "type": "quantitative", "title": null}},
                "layer": [
                  {"mark": {"type": "point", "shape": "M-0.82,-1H0.82V1H-0.82Z", "size": 210, "filled": true, "fill": "#ffffff", "stroke": "#b0b0b0", "strokeWidth": 1, "opacity": 0.95, "clip": true}},
                  {"mark": {"type": "text", "font": "Liberation Sans", "fontSize": 11, "color": "#3a3a3a", "clip": true}, "encoding": {"text": {"field": "k"}}}
                ]
              },
              {
                "data": {"values": [{"a": "거래량", "b": "1,022,390,920"}]},
                "encoding": {"x": {"datum": {"year": 2018, "month": 10, "date": 18}, "type": "temporal"}, "y": {"datum": 1091, "type": "quantitative"}},
                "layer": [
                  {"mark": {"type": "text", "align": "right", "dx": -1, "color": "#555555", "fontSize": 12, "font": "Noto Sans CJK KR"}, "encoding": {"text": {"field": "a"}}},
                  {"mark": {"type": "text", "align": "left", "dx": 1, "color": "#3db21b", "fontSize": 12}, "encoding": {"text": {"field": "b"}}}
                ]
              },
              {
                "data": {"values": [{"t": "×"}]},
                "encoding": {"x": {"datum": {"year": 2020, "month": 5, "date": 14}, "type": "temporal"}, "y": {"datum": 1091, "type": "quantitative"}},
                "layer": [
                  {"mark": {"type": "point", "shape": "square", "size": 110, "filled": true, "fill": "#ffffff", "stroke": "#aaaaaa", "strokeWidth": 1, "opacity": 1}},
                  {"mark": {"type": "text", "color": "#999999", "fontSize": 11}, "encoding": {"text": {"field": "t"}}}
                ]
              }
            ]
          },
          {"width":20,"height":22,"view":{"fill":"#dcdcdc","stroke":"#bdbdbd"},"data":{"values":[{"t":"*:"}]},"mark":{"type":"text","align":"left","dx":-6,"color":"#444444","fontSize":11},"encoding":{"text":{"field":"t"}}}
        ], "spacing":0, "bounds":"flush"}
      ], "spacing":0}
    ], "spacing":0}
  ]
}
